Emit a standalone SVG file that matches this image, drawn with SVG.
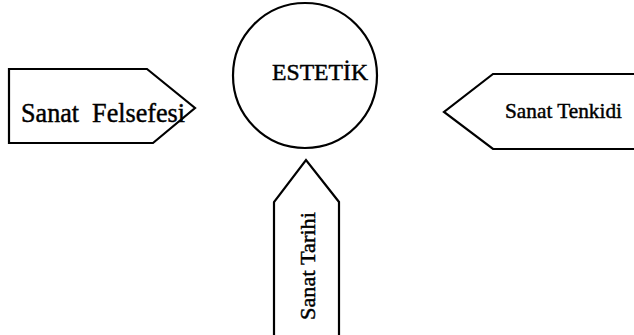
<svg xmlns="http://www.w3.org/2000/svg" width="634" height="335" viewBox="0 0 634 335">
  <style>
    .shape { fill: #ffffff; stroke: #000000; stroke-width: 2.2; stroke-linejoin: miter; }
    .label { fill: #000000; stroke: #000000; stroke-width: 0.45; font-family: "Liberation Serif", "Times New Roman", serif; }
  </style>
  <rect width="634" height="335" fill="#ffffff"/>
  <!-- central concept -->
  <g id="estetik">
    <ellipse class="shape" cx="305" cy="75.5" rx="72" ry="72.5"/>
    <text class="label" x="272" y="80" font-size="23" textLength="96" lengthAdjust="spacingAndGlyphs">ESTETİK</text>
  </g>
  <!-- pointer shapes aimed at the circle -->
  <g id="sanat-felsefesi">
    <polygon class="shape" points="9,69 147,69 195,108 153,143 9,143"/>
    <text class="label" x="21" y="122" font-size="27" textLength="164" lengthAdjust="spacingAndGlyphs" xml:space="preserve">Sanat  Felsefesi</text>
  </g>
  <g id="sanat-tenkidi">
    <polygon class="shape" points="636,74 493,74 444,112 493,149 636,149"/>
    <text class="label" x="505" y="118" font-size="22" textLength="117" lengthAdjust="spacingAndGlyphs">Sanat Tenkidi</text>
  </g>
  <g id="sanat-tarihi">
    <polygon class="shape" points="274,337 274,202 306,160 339,202 339,337"/>
    <text class="label" transform="translate(315,320) rotate(-90)" font-size="22" textLength="108" lengthAdjust="spacingAndGlyphs">Sanat Tarihi</text>
  </g>
  <g id="connectors"/>
</svg>
